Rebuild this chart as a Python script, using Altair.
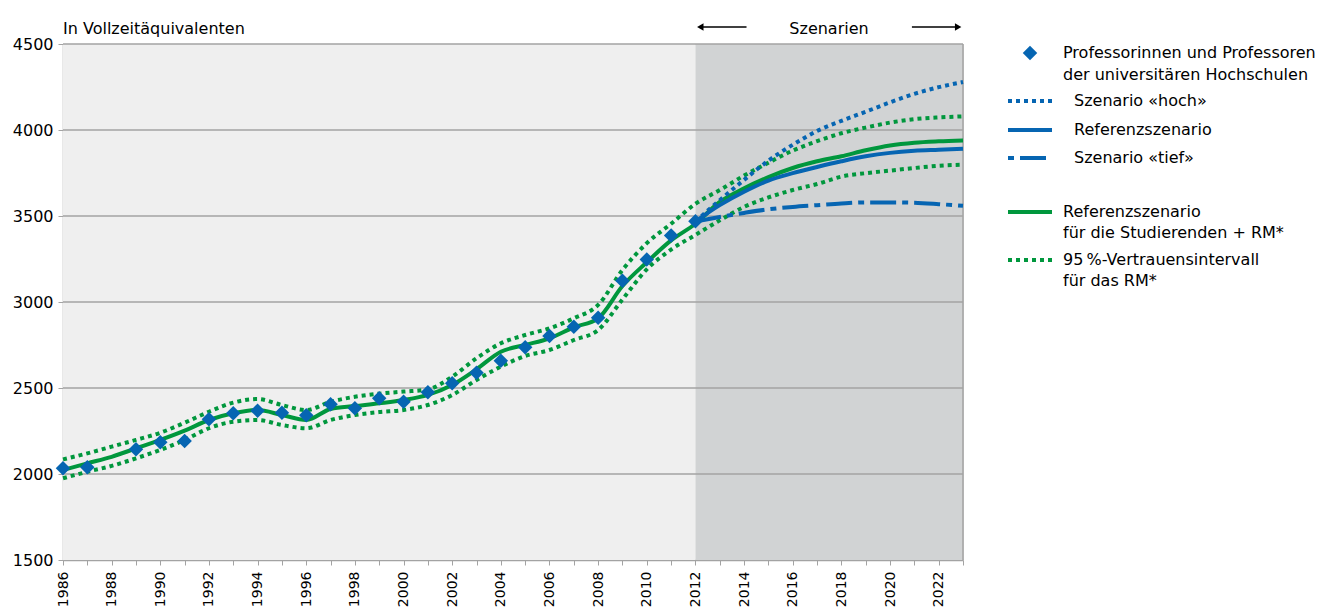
import altair as alt
import pandas as pd

FONT = "DejaVu Sans"
BLUE = "#0665B2"
GREEN = "#00973D"
GRID = "#A3A3A3"

# ---------------- data ----------------
obs_years = [1986, 1987, 1989, 1990, 1991, 1992, 1993, 1994, 1995, 1996, 1997, 1998,
             1999, 2000, 2001, 2002, 2003, 2004, 2005, 2006, 2007, 2008, 2009, 2010,
             2011, 2012]
obs_values = [2033, 2039, 2144, 2184, 2192, 2318, 2353, 2368, 2356, 2341, 2405, 2382,
              2440, 2420, 2475, 2527, 2589, 2659, 2737, 2802, 2856, 2909, 3123, 3247,
              3386, 3470]

rm_years = list(range(1986, 2024))
rm_ref = [2023, 2062, 2100, 2149, 2198, 2252, 2314, 2353, 2372, 2343, 2314, 2378,
          2395, 2411, 2430, 2460, 2518, 2609, 2711, 2750, 2789, 2853, 2905, 3093,
          3231, 3358, 3455, 3582, 3661, 3726, 3779, 3818, 3847, 3882, 3910, 3926,
          3934, 3939]
rm_upper = [2085, 2120, 2159, 2198, 2240, 2298, 2362, 2415, 2436, 2401, 2372, 2420,
            2449, 2467, 2479, 2492, 2566, 2673, 2760, 2808, 2847, 2905, 2983, 3186,
            3342, 3455, 3571, 3651, 3735, 3810, 3880, 3935, 3981, 4014, 4043, 4063,
            4073, 4079]
rm_lower = [1975, 2013, 2047, 2091, 2140, 2198, 2266, 2304, 2314, 2285, 2266, 2314,
            2343, 2360, 2372, 2401, 2459, 2547, 2624, 2686, 2721, 2779, 2837, 3015,
            3190, 3305, 3390, 3475, 3553, 3608, 3651, 3686, 3729, 3749, 3764, 3779,
            3792, 3798]

scen_years = list(range(2012, 2024))
scen_hoch = [3468, 3592, 3710, 3822, 3914, 3994, 4053, 4106, 4161, 4210, 4249, 4279]
scen_ref = [3468, 3563, 3641, 3706, 3749, 3785, 3818, 3847, 3867, 3879, 3885, 3891]
scen_tief = [3468, 3494, 3518, 3539, 3553, 3563, 3573, 3579, 3579, 3577, 3569, 3559]

y_ticks = [1500, 2000, 2500, 3000, 3500, 4000, 4500]
x_ticks = list(range(1986, 2024))
x_min, x_split, x_max = 1986, 2012, 2023

# ---------------- scales / axes ----------------
xscale = alt.Scale(domain=[x_min, x_max], nice=False, zero=False)
yscale = alt.Scale(domain=[1500, 4500], nice=False, zero=False)
xaxis = alt.Axis(values=x_ticks, format="d", title=None, grid=False,
                 labelExpr="datum.value % 2 == 0 ? datum.label : ''",
                 labelAngle=270, labelAlign="right", labelBaseline="middle",
                 labelPadding=6, tickSize=5, tickColor=GRID, domainColor=GRID,
                 domainWidth=1.5, labelFont=FONT, labelFontSize=14,
                 labelColor="#000000", labelOverlap=False)
yaxis = alt.Axis(values=y_ticks, format="d", title=None, grid=False,
                 tickSize=5, labelPadding=5, tickColor=GRID, domainColor=GRID,
                 domainWidth=1.5, labelFont=FONT, labelFontSize=16,
                 labelColor="#000000")

X = alt.X("year:Q", scale=xscale, axis=xaxis)
Y = alt.Y("value:Q", scale=yscale, axis=yaxis)

# ---------------- background ----------------
bg_df = pd.DataFrame({"year": [x_min, x_split], "year2": [x_split, x_max],
                      "value": [1500, 1500], "value2": [4500, 4500],
                      "zone": ["hist", "scen"]})
bg = alt.Chart(bg_df).mark_rect().encode(
    x=X, x2="year2:Q", y=Y, y2="value2:Q",
    color=alt.Color("zone:N", scale=alt.Scale(domain=["hist", "scen"],
                                              range=["#EFEFEF", "#D1D3D4"]),
                    legend=None))

grid = alt.Chart(pd.DataFrame({"value": y_ticks[1:]})).mark_rule(
    color=GRID, strokeWidth=1.5).encode(y=Y)
right_border = alt.Chart(pd.DataFrame({"year": [x_max]})).mark_rule(
    color=GRID, strokeWidth=1.5).encode(x=X)


def line(years, values, color, dash=None, width=4):
    df = pd.DataFrame({"year": years, "value": values})
    kw = dict(color=color, strokeWidth=width, interpolate="monotone")
    if dash is not None:
        kw["strokeDash"] = dash
    return alt.Chart(df).mark_line(**kw).encode(x=X, y=Y)


DOT = [4, 4]
DASHDOT = [26, 6, 6, 6]

l_upper = line(rm_years, rm_upper, GREEN, DOT)
l_lower = line(rm_years, rm_lower, GREEN, DOT)
l_ref = line(rm_years, rm_ref, GREEN)
l_hoch = line(scen_years, scen_hoch, BLUE, DOT)
l_bref = line(scen_years, scen_ref, BLUE)
l_tief = line(scen_years, scen_tief, BLUE, DASHDOT)

pts = alt.Chart(pd.DataFrame({"year": obs_years, "value": obs_values})).mark_point(
    shape="diamond", filled=True, size=210, color=BLUE, opacity=1).encode(x=X, y=Y)

# ---------------- header texts and arrows ----------------
def txt(s, x, y, align="left", baseline="middle", size=16):
    return alt.Chart(pd.DataFrame({"t": [s]})).mark_text(
        text=s, align=align, baseline=baseline, font=FONT, fontSize=size,
        color="#000000").encode(x=alt.value(x), y=alt.value(y))

title = txt("In Vollzeitäquivalenten", 0, -10, baseline="alphabetic")
szen = txt("Szenarien", 766, -10, align="center", baseline="alphabetic")

arrow_df = pd.DataFrame({"year": [2012.2, 2020.9], "year2": [2014.1, 2022.8]})
arrow_shafts = alt.Chart(arrow_df).mark_rule(color="#000000", strokeWidth=1.6).encode(
    x=X, x2="year2:Q", y=alt.value(-17))
head_l = alt.Chart(pd.DataFrame({"year": [2012.2]})).mark_point(
    shape="triangle-left", filled=True, size=55, color="#000000", opacity=1).encode(
    x=X, y=alt.value(-17))
head_r = alt.Chart(pd.DataFrame({"year": [2022.8]})).mark_point(
    shape="triangle-right", filled=True, size=55, color="#000000", opacity=1).encode(
    x=X, y=alt.value(-17))

# ---------------- legend ----------------
def leg_line(y, color, dash=None, offset=None):
    kw = dict(color=color, strokeWidth=4)
    if dash is not None:
        kw["strokeDash"] = dash
    if offset is not None:
        kw["strokeDashOffset"] = offset
    return alt.Chart(pd.DataFrame({"k": [0]})).mark_rule(**kw).encode(
        x=alt.value(945), x2=alt.value(989), y=alt.value(y))

leg_diamond = alt.Chart(pd.DataFrame({"k": [0]})).mark_point(
    shape="diamond", filled=True, size=210, color=BLUE, opacity=1).encode(
    x=alt.value(967), y=alt.value(9))

legend_layers = [
    leg_diamond,
    txt("Professorinnen und Professoren", 1000, 9),
    txt("der universitären Hochschulen", 1000, 31),
    leg_line(57, BLUE, DOT), txt("Szenario «hoch»", 1011, 57),
    leg_line(86, BLUE), txt("Referenzszenario", 1011, 86),
    leg_line(114, BLUE, DASHDOT, 32), txt("Szenario «tief»", 1011, 114),
    leg_line(168, GREEN), txt("Referenzszenario", 1000, 168),
    txt("für die Studierenden + RM*", 1000, 189),
    leg_line(216, GREEN, DOT), txt("95\u2009%-Vertrauensintervall", 1000, 216),
    txt("für das RM*", 1000, 237),
]

chart = alt.layer(
    bg, grid, right_border,
    l_upper, l_lower, l_ref, l_hoch, l_bref, l_tief, pts,
    title, szen, arrow_shafts, head_l, head_r,
    *legend_layers,
).properties(
    width=900, height=516,
    padding={"left": 55, "top": 36, "right": 361, "bottom": 47},
    autosize=alt.AutoSizeParams(type="none"),
).configure_view(stroke=None).configure(background="#FFFFFF")

chart.save("out.html", embed_options={"renderer": "svg", "actions": False})
